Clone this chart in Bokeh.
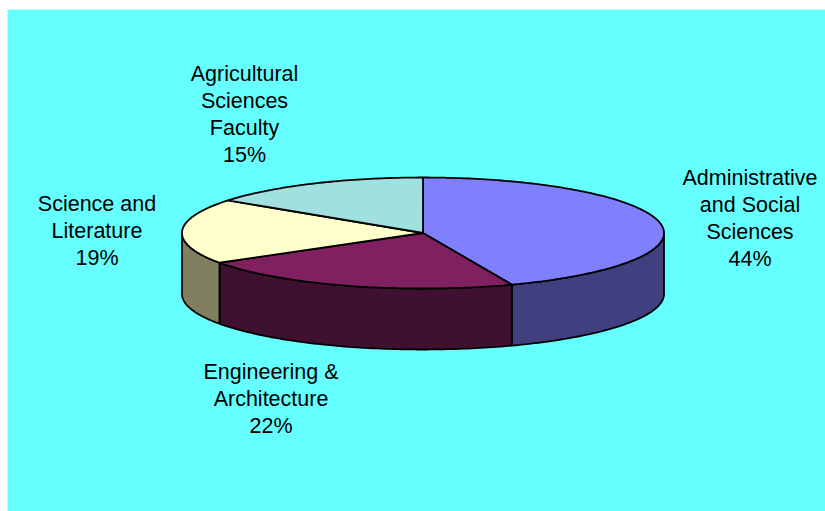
from math import sin, cos, radians

from bokeh.core.properties import value
from bokeh.embed import file_html
from bokeh.models import Range1d
from bokeh.plotting import figure
from bokeh.resources import INLINE

# Enrolment share per faculty, clockwise from twelve o'clock
faculties = ["Administrative\nand Social\nSciences", "Engineering &\nArchitecture",
             "Science and\nLiterature", "Agricultural\nSciences\nFaculty"]
shares = [44, 22, 19, 15]
top_colors = ["#8080FF", "#802060", "#FFFFCC", "#A0E0E0"]
side_colors = ["#404080", "#401030", "#808060", "#507070"]

# Label anchors (centre x, y of first line)
label_x = [749.5, 270.5, 96.5, 244]
label_y = [177.5, 371, 203, 73.5]
line_step = 27.0

# Tilted disc geometry, in page pixels
cx, cy, rx, ry, depth = 422.5, 232.5, 241.0, 55.5, 61.0

WIDTH, HEIGHT = 825, 511
LEFT, TOP = 7, 9

p = figure(width=WIDTH, height=HEIGHT, output_backend="svg", toolbar_location=None,
           x_range=Range1d(LEFT, WIDTH), y_range=Range1d(HEIGHT, TOP),
           min_border_left=LEFT, min_border_top=TOP, min_border_right=0, min_border_bottom=0,
           background_fill_color="#66FFFF", border_fill_color="#FFFFFF",
           outline_line_color=None)
p.axis.visible = False
p.grid.visible = False


def rim_point(deg, drop=0.0):
    return cx + rx * sin(radians(deg)), cy - ry * cos(radians(deg)) + drop


def arc(start, stop, drop=0.0):
    n = max(2, int(abs(stop - start)) + 2)
    pts = [rim_point(start + (stop - start) * i / (n - 1), drop) for i in range(n)]
    return [q[0] for q in pts], [q[1] for q in pts]


edges = [0.0]
for s in shares:
    edges.append(edges[-1] + s * 3.6)

# Side walls: only the part of each slice that faces the viewer (90..270 degrees)
for start, stop, color in zip(edges[:-1], edges[1:], side_colors):
    a, b = max(start, 90.0), min(stop, 270.0)
    if a >= b:
        continue
    x_top, y_top = arc(a, b)
    x_low, y_low = arc(b, a, depth)
    p.patch(x_top + x_low, y_top + y_low, fill_color=color, line_color="#000000", line_width=1.8)

# Top faces
for start, stop, color in zip(edges[:-1], edges[1:], top_colors):
    xs, ys = arc(start, stop)
    p.patch([cx] + xs, [cy] + ys, fill_color=color, line_color="#000000", line_width=1.8)

# Labels: the faculty name over its share
for name, share, lx, ly in zip(faculties, shares, label_x, label_y):
    lines = name.split("\n") + [f"{share}%"]
    p.text([lx] * len(lines), [ly + i * line_step for i in range(len(lines))], text=lines,
           text_font=value("Liberation Sans"), text_font_size="21.5px", text_color="#000000",
           text_align="center", text_baseline="middle")

open("out.html", "w").write(file_html(p, INLINE))
